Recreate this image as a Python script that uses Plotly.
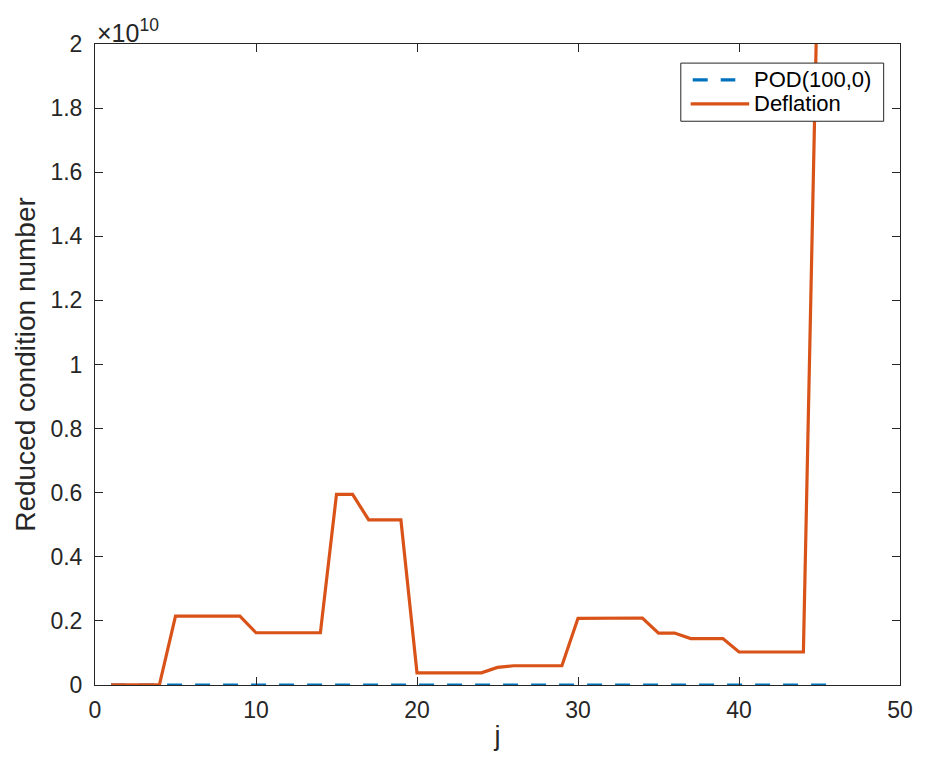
import plotly.graph_objects as go

# Data (values in raw units; axis scaled by 1e10)
j_def = list(range(1, 46))
deflation_e10 = [0.0005, 0.0005, 0.0005, 0.0005, 0.215, 0.215, 0.215, 0.215, 0.215,
                 0.163, 0.163, 0.163, 0.163, 0.163, 0.595, 0.595, 0.515, 0.515, 0.515,
                 0.038, 0.038, 0.038, 0.038, 0.038, 0.055, 0.06, 0.06, 0.06, 0.06,
                 0.208, 0.208, 0.209, 0.209, 0.209, 0.162, 0.162, 0.145, 0.145, 0.145,
                 0.103, 0.103, 0.103, 0.103, 0.103, 2.5]
deflation = [v * 1e10 for v in deflation_e10]

j_pod = list(range(1, 47))
pod = [1e4] * len(j_pod)

x_ticks = [0, 10, 20, 30, 40, 50]
y_tick_labels = ["0", "0.2", "0.4", "0.6", "0.8", "1", "1.2", "1.4", "1.6", "1.8", "2"]
y_tick_vals = [float(t) * 1e10 for t in y_tick_labels]

series_names = ["POD(100,0)", "Deflation"]
series_colors = ["#0072BD", "#D95319"]
DASH = "15px,13px"

FONT = "Liberation Sans, Arial, Helvetica, sans-serif"
TXT = "#262626"

fig = go.Figure()
fig.add_trace(go.Scatter(x=j_pod, y=pod, mode="lines", name=series_names[0], showlegend=False,
                         line=dict(color=series_colors[0], width=3.2, dash=DASH)))
fig.add_trace(go.Scatter(x=j_def, y=deflation, mode="lines", name=series_names[1], showlegend=False,
                         line=dict(color=series_colors[1], width=3.2)))

axis_common = dict(showgrid=False, zeroline=False, showline=True, linecolor=TXT,
                   linewidth=1, mirror="ticks", ticks="inside", ticklen=8,
                   tickcolor=TXT, tickfont=dict(family=FONT, size=23, color=TXT))

fig.update_layout(
    width=925, height=757,
    margin=dict(l=95, r=15, t=44, b=68),
    paper_bgcolor="white", plot_bgcolor="white",
    font=dict(family=FONT, color=TXT),
    xaxis=dict(range=[0, 50], tickvals=x_ticks, ticklabelstandoff=4,
               title=dict(text="j", font=dict(family=FONT, size=27, color=TXT), standoff=4),
               **axis_common),
    yaxis=dict(range=[0, 2e10], tickvals=y_tick_vals, ticktext=y_tick_labels, ticklabelstandoff=7,
               title=dict(text="Reduced condition number", font=dict(family=FONT, size=28, color=TXT), standoff=6),
               **axis_common),
    showlegend=False,
)

# exponent label
fig.add_annotation(x=0.0, y=1, xref="paper", yref="paper", xanchor="left", yanchor="bottom",
                   text="×10<sup>10</sup>", showarrow=False, yshift=-5,
                   font=dict(family=FONT, size=25, color=TXT))

# legend box (drawn above the data, like MATLAB)
lx0, lx1, ly0, ly1 = 0.7277, 0.9797, 0.8795, 0.9702
fig.add_shape(type="rect", xref="paper", yref="paper", x0=lx0, x1=lx1, y0=ly0, y1=ly1,
              fillcolor="white", line=dict(color=TXT, width=1), layer="above")
legend_rows = [0.9440, 0.9065]
sample_x = [(0.7425, 0.7954), (0.740, 0.8126)]
sample_dash = [DASH, "solid"]
for name, color, yy, (sx0, sx1), dsh in zip(series_names, series_colors, legend_rows, sample_x, sample_dash):
    fig.add_shape(type="line", xref="paper", yref="paper", x0=sx0, x1=sx1, y0=yy, y1=yy,
                  line=dict(color=color, width=3.2, dash=dsh), layer="above")
    fig.add_annotation(x=0.8175, y=yy, xref="paper", yref="paper", xanchor="left", yanchor="middle",
                       text=name, showarrow=False, borderpad=0,
                       font=dict(family=FONT, size=22, color="#000000"))

fig.write_html("out.html")
